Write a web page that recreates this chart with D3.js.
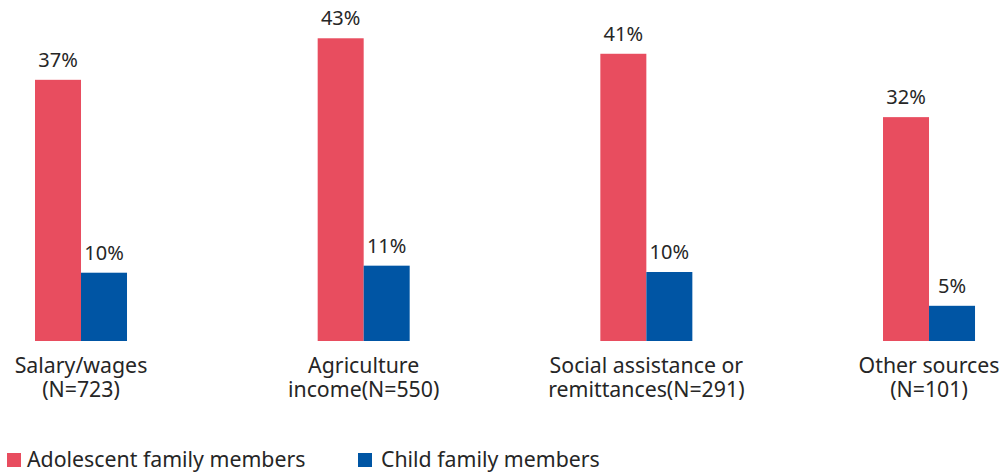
<!DOCTYPE html>
<html lang="en">
<head>
  <meta charset="UTF-8">
  <title>Income sources</title>
  <script src="https://d3js.org/d3.v7.min.js"></script>
  <style>
    body { margin: 0; background: #fff; }
    svg text { font-family: "Noto Sans", "Open Sans", sans-serif; fill: #262626; }
  </style>
</head>
<body>
  <script>
    // data
    var categories = ["Salary/wages|(N=723)", "Agriculture|income(N=550)", "Social assistance or|remittances(N=291)", "Other sources|(N=101)"]
    var seriesNames = ["Adolescent family members", "Child family members"]
    var adolescent = [37.1, 43.0, 40.8, 31.8]
    var child = [9.7, 10.7, 9.8, 5.0]
    var colors = ["#E84D5F", "#0055A4"]

    var w = 1005, h = 473
    var baseY = 341

    var svg = d3.select("body").append("svg")
      .attr("width", w)
      .attr("height", h)

    var step = 282.67
    var x = d3.scaleBand()
      .domain(categories)
      .range([35 - step * 0.6745 / 2, 35 - step * 0.6745 / 2 + step * 4])
      .paddingInner(0.6745)
      .paddingOuter(0.6745 / 2)

    var xs = d3.scaleBand().domain(seriesNames).range([0, x.bandwidth()])

    var y = d3.scaleLinear().domain([0, 45]).range([baseY, baseY - 45 * 7.04])

    var rows = categories.map(function (c, i) {
      return { cat: c, vals: [adolescent[i], child[i]] }
    })

    var g = svg.selectAll(".grp")
      .data(rows)
      .enter().append("g")
      .attr("class", "grp")
      .attr("transform", function (d) { return "translate(" + x(d.cat) + ",0)" })

    g.selectAll("rect")
      .data(function (d) { return d.vals.map(function (v, j) { return { s: seriesNames[j], v: v, j: j } }) })
      .enter().append("rect")
      .attr("x", function (d) { return xs(d.s) })
      .attr("width", xs.bandwidth())
      .attr("y", function (d) { return y(d.v) })
      .attr("height", function (d) { return baseY - y(d.v) })
      .attr("fill", function (d) { return colors[d.j] })

    // value labels
    g.selectAll(".val")
      .data(function (d) { return d.vals.map(function (v, j) { return { s: seriesNames[j], v: v } }) })
      .enter().append("text")
      .attr("class", "val")
      .attr("x", function (d) { return xs(d.s) + xs.bandwidth() / 2 })
      .attr("y", function (d) { return y(d.v) - 13 })
      .attr("text-anchor", "middle")
      .attr("font-size", "20px")
      .text(function (d) { return Math.round(d.v) + "%" })

    // category labels, two lines each
    g.each(function (d) {
      var lines = d.cat.split("|")
      var cg = d3.select(this)
      lines.forEach(function (t, i) {
        cg.append("text")
          .attr("text-anchor", "middle")
          .attr("font-size", "21.3px")
          .attr("x", x.bandwidth() / 2)
          .attr("y", 373 + i * 24)
          .text(t)
      })
    })

    // legend
    var legX = [7, 358]
    var leg = svg.selectAll(".leg")
      .data(seriesNames)
      .enter().append("g")
      .attr("class", "leg")
      .attr("transform", function (d, i) { return "translate(" + legX[i] + ",453)" })

    leg.append("rect")
      .attr("width", 14)
      .attr("height", 14)
      .attr("fill", function (d, i) { return colors[i] })

    leg.append("text")
      .attr("x", function (d, i) { return i === 0 ? 20 : 23 })
      .attr("y", 14)
      .attr("font-size", "21.3px")
      .text(function (d) { return d })
  </script>
</body>
</html>
